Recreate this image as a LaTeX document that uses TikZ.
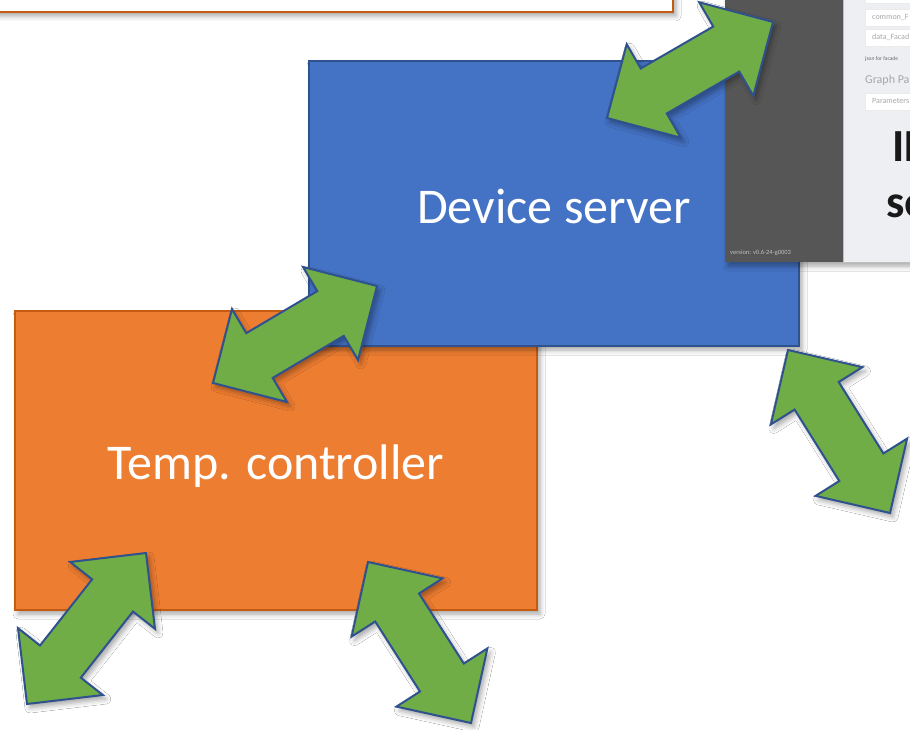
\documentclass[tikz,border=0pt]{standalone}
\usepackage{fontspec}
\setmainfont{Carlito}
\usetikzlibrary{calc,shadows.blur}
\definecolor{ablue}{HTML}{4472C4}
\definecolor{ablueedge}{HTML}{2F528F}
\definecolor{aorange}{HTML}{ED7D31}
\definecolor{aorangeedge}{HTML}{C55A11}
\definecolor{agreen}{HTML}{70AD47}
\definecolor{darkpanel}{HTML}{565656}
\definecolor{lightpanel}{HTML}{EEEFF3}
\definecolor{faint}{HTML}{A8A8AC}
\tikzset{
  softshadow/.style={blur shadow={shadow xshift=3pt, shadow yshift=-4pt, shadow blur radius=5pt, shadow opacity=35}},
  greenarrow/.style={fill=agreen, draw=ablueedge, line width=2pt, line join=miter, softshadow},
  bigbox/.style={rectangle, inner sep=0pt, line width=1.5pt, softshadow},
  bigtextlabel/.style={inner sep=0pt, text=white, font=\fontsize{50}{60}\selectfont},
  bluebox/.style={bigbox, fill=ablue, draw=ablueedge},
  orangebox/.style={bigbox, fill=aorange, draw=aorangeedge},
  notebox/.style={rectangle, inner sep=0pt, fill=white, draw=aorangeedge, line width=2pt, softshadow},
  field/.style={rectangle, inner sep=0pt, fill=white, draw=white!92!black, line width=0.4pt, anchor=north west},
  fieldtext/.style={anchor=base west, inner sep=0pt, text=faint, font=\fontsize{8}{9}\selectfont},
  bigtext/.style={anchor=base west, inner sep=0pt, text=black!90, font=\fontsize{46}{56}\selectfont\bfseries},
}
\newcommand\blockarrow[2]{%
  \draw[greenarrow] (#1)
   -- ($(#1)!54pt!(#2)!54pt!90:(#2)$)
   -- ($(#1)!54pt!(#2)!26pt!90:(#2)$)
   -- ($(#2)!54pt!(#1)!26pt!-90:(#1)$)
   -- ($(#2)!54pt!(#1)!54pt!-90:(#1)$)
   -- (#2)
   -- ($(#2)!54pt!(#1)!54pt!90:(#1)$)
   -- ($(#2)!54pt!(#1)!26pt!90:(#1)$)
   -- ($(#1)!54pt!(#2)!26pt!-90:(#2)$)
   -- ($(#1)!54pt!(#2)!54pt!-90:(#2)$)
   -- cycle;}
\begin{document}
\begin{tikzpicture}[x=1pt, y=-1pt]
  \path[use as bounding box, clip] (0,0) rectangle (910,730);
  \fill[white] (0,0) rectangle (910,730);

  % top-left note box (mostly outside the picture)
  \node[notebox, minimum width=700pt, minimum height=60pt] (note) at (323,-18) {};

  % boxes
  \node[orangebox, minimum width=522pt, minimum height=299pt] (temp) at (276,460.5) {};
  \node[bigtextlabel] (templabel) at ([yshift=-6pt]temp.center) {Temp. controller};
  \node[bluebox, minimum width=490pt, minimum height=285pt] (dev) at (554,203.5) {};
  \node[bigtextlabel] (devlabel) at ([yshift=-3pt]dev.center) {Device server};

  % screenshot
  \path[softshadow, fill=darkpanel] (725,-10) rectangle (920,262);
  \node[rectangle, inner sep=0pt, fill=darkpanel, minimum width=118pt, minimum height=272pt, anchor=north west] (shotdark) at (725,-10) {};
  \node[rectangle, inner sep=0pt, fill=lightpanel, draw=black!25, line width=0.6pt, minimum width=80pt, minimum height=272pt, anchor=north west] (shotlight) at (843,-10) {};
  \node[anchor=base west, inner sep=0pt, text=white!75!black, font=\fontsize{6.5}{7}\selectfont] (ver) at (730,254) {version: v0.6-24-g0003};
  \node[field, minimum width=60pt, minimum height=13pt] (f0) at (865,-10) {};
  \node[field, minimum width=60pt, minimum height=17pt] (f1) at (865,9) {};
  \node[field, minimum width=60pt, minimum height=17pt] (f2) at (865,29) {};
  \node[field, minimum width=60pt, minimum height=17pt] (f3) at (865,93) {};
  \node[fieldtext] (t1) at (872,20) {common\_F};
  \node[fieldtext] (t2) at (872,40) {data\_Facad};
  \node[fieldtext, text=black!60, font=\fontsize{5.5}{6}\selectfont] (t3) at (865,61) {json for facade};
  \node[fieldtext, text=black!35, font=\fontsize{12}{14}\selectfont] (t4) at (865,84) {Graph Pa};
  \node[fieldtext] (t5) at (872,104) {Parameters};
  \node[bigtext] (il) at (892,162) {IL};
  \node[bigtext] (se) at (886,218) {se};

  % arrow tips
  \coordinate (a1) at (607,118); \coordinate (a2) at (773,22);
  \coordinate (b1) at (213,383); \coordinate (b2) at (377,286);
  \coordinate (c1) at (788,350); \coordinate (c2) at (890,513);
  \coordinate (d1) at (27,704);  \coordinate (d2) at (146,553);
  \coordinate (e1) at (368,562); \coordinate (e2) at (471,723);
  \blockarrow{a1}{a2}
  \blockarrow{b1}{b2}
  \blockarrow{c1}{c2}
  \blockarrow{d1}{d2}
  \blockarrow{e1}{e2}
\end{tikzpicture}
\end{document}
